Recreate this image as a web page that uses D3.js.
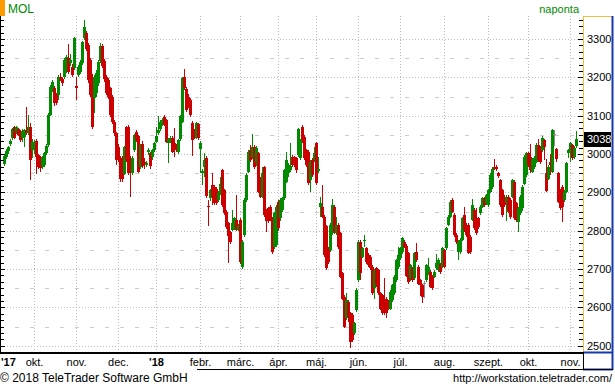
<!DOCTYPE html>
<html>
<head>
<meta charset="utf-8">
<script src="https://cdnjs.cloudflare.com/ajax/libs/d3/7.8.5/d3.min.js"></script>
<style>
  body { margin: 0; background: #fff; }
  svg { display: block; font-family: "Liberation Sans", Arial, sans-serif; }
</style>
</head>
<body>
<script>
// MOL daily candles, mid Sep 2017 - early Nov 2018, one entry per trading day
var open = [
  2975,2993,3008,3026,3041,3070,3058,3064,3058,3041,3045,3063,3054,3071,3010,3012,3035,2997,2993,2967,
  2971,3002,3023,3102,3167,3171,3154,3154,3200,3195,3202,3219,3250,3237,3228,3224,3177,3206,3215,3237,
  3302,3315,3284,3245,3202,3145,3160,3185,3243,3282,3243,3200,3193,3171,3150,3084,3054,3019,2989,2989,
  2948,3071,3071,2989,2950,3010,3058,3046,2967,3025,2980,2972,3006,3002,2991,3010,3032,3054,3064,3076,
  3097,3089,3028,3036,3043,3028,3021,3006,3038,3084,3202,3169,3150,3141,3080,3060,3043,3078,3012,2950,
  2965,2989,2864,2884,2919,2915,2910,2880,2897,2958,2906,2850,2819,2797,2802,2806,2828,2802,2828,2704,
  2788,2880,2954,3010,2993,3019,2976,3002,2936,2889,2967,2850,2858,2863,2832,2758,2763,2876,2832,2854,
  2884,2928,2950,2958,2993,2991,2989,2997,2989,3070,3045,3010,3006,2932,2984,2984,3028,2956,2863,2863,
  2836,2811,2754,2750,2793,2863,2793,2815,2793,2689,2628,2571,2615,2584,2580,2532,2593,2671,2771,2732,
  2773,2754,2737,2732,2706,2650,2702,2697,2637,2632,2623,2623,2615,2597,2619,2637,2671,2706,2728,2745,
  2771,2760,2741,2676,2702,2676,2745,2706,2671,2658,2664,2671,2688,2693,2680,2680,2702,2697,2713,2706,
  2749,2754,2815,2836,2880,2841,2789,2745,2745,2776,2841,2815,2815,2784,2828,2854,2832,2832,2845,2863,
  2884,2871,2867,2902,2915,2967,2967,2950,2932,2906,2889,2876,2889,2880,2889,2928,2871,2823,2845,2858,
  2923,2945,3002,2993,2954,2967,2980,3023,3015,3010,3036,2950,2936,2978,2954,3052,3012,2950,2906,2915,
  2880,2902,3002,3010,3023,2993,3021
];
var high = [
  3000,3012,3022,3040,3068,3074,3074,3068,3062,3064,3066,3122,3102,3082,3040,3036,3038,3000,2996,2994,
  3006,3026,3106,3180,3194,3178,3160,3206,3212,3200,3250,3258,3287,3262,3234,3306,3202,3232,3244,3296,
  3350,3322,3290,3250,3208,3206,3218,3246,3290,3286,3248,3206,3198,3176,3155,3088,3058,3025,2994,2996,
  3020,3074,3076,2995,2995,3052,3062,3050,3026,3035,2990,2982,3016,3006,3014,3032,3070,3099,3088,3094,
  3101,3092,3042,3048,3048,3067,3026,3040,3103,3200,3222,3174,3156,3146,3085,3066,3084,3082,3034,2962,
  3002,2995,2880,2910,2951,2920,2914,2903,2941,2962,2910,2854,2823,2800,2854,2836,2893,2818,2832,2775,
  2884,2950,3010,3023,3052,3024,3020,3006,2940,2967,2970,2856,2862,2866,2836,2850,2868,2880,2884,2888,
  2962,3006,2976,3028,2998,2996,2992,3068,3040,3076,3050,3014,3010,2984,2990,3019,3032,2993,2888,2919,
  2840,2815,2758,2819,2882,2867,2836,2820,2797,2692,2632,2638,2620,2588,2584,2562,2650,2775,2776,2758,
  2788,2758,2741,2736,2710,2700,2706,2700,2641,2636,2676,2628,2620,2645,2662,2684,2727,2758,2758,2784,
  2775,2764,2745,2714,2706,2745,2768,2710,2675,2662,2668,2714,2730,2697,2684,2697,2740,2728,2717,2758,
  2753,2810,2840,2880,2884,2845,2793,2775,2780,2836,2862,2819,2819,2788,2882,2858,2858,2836,2868,2888,
  2888,2897,2910,2950,2966,2988,2972,2954,2936,2910,2893,2893,2894,2884,2936,2932,2875,2862,2893,2920,
  2997,3006,3006,3027,2990,2994,3028,3040,3020,3046,3040,2988,2972,3001,3066,3062,3016,2954,2910,2919,
  2906,2980,3014,3032,3027,3020,3060
];
var low = [
  2968,2988,3000,3022,3036,3038,3052,3046,3032,3032,3017,3050,3050,2932,2990,3000,2948,2960,2954,2960,
  2966,2998,3018,3098,3162,3126,3128,3140,3190,3178,3196,3212,3210,3230,3200,3218,3141,3200,3210,3232,
  3298,3268,3186,3148,3066,3106,3150,3178,3238,3224,3188,3154,3144,3096,3079,3048,2971,2978,2928,2928,
  2944,2980,2944,2889,2945,3004,3032,2950,2960,2963,2960,2965,2998,2962,2985,3005,3028,3050,3060,3072,
  3072,3028,2977,3030,3002,2993,3006,3000,3034,3080,3166,3110,3120,3097,2995,3040,3038,3036,2950,2920,
  2941,2885,2812,2878,2867,2866,2866,2876,2893,2862,2840,2805,2716,2766,2798,2802,2798,2798,2714,2700,
  2784,2876,2950,2980,2988,2962,2970,2898,2884,2885,2836,2797,2819,2824,2740,2752,2758,2800,2826,2850,
  2880,2924,2940,2954,2966,2966,2950,2992,2984,3030,2984,2966,2920,2902,2940,2980,2920,2950,2836,2832,
  2732,2697,2714,2745,2788,2792,2788,2753,2676,2618,2545,2567,2563,2493,2510,2528,2588,2666,2671,2728,
  2758,2714,2706,2698,2632,2623,2654,2632,2593,2580,2580,2571,2593,2592,2614,2632,2666,2700,2724,2740,
  2754,2678,2662,2670,2666,2672,2718,2658,2630,2612,2625,2666,2684,2650,2646,2676,2698,2692,2688,2702,
  2702,2750,2811,2832,2845,2784,2766,2724,2740,2772,2797,2784,2738,2740,2824,2801,2788,2805,2840,2858,
  2862,2866,2862,2898,2910,2958,2955,2938,2862,2836,2862,2824,2845,2831,2884,2827,2823,2796,2840,2852,
  2918,2940,2966,2950,2950,2962,2976,2980,2975,3006,2985,2900,2932,2945,2950,3020,2980,2871,2853,2823,
  2876,2898,2990,2980,2984,2988,3016
];
var close = [
  2995,3008,3018,3035,3064,3041,3070,3050,3037,3061,3063,3054,3071,2984,3032,3030,2993,2967,2963,2989,
  3002,3021,3102,3176,3189,3132,3132,3202,3195,3184,3245,3254,3215,3245,3206,3302,3173,3228,3240,3293,
  3332,3273,3193,3154,3071,3200,3212,3241,3282,3230,3195,3160,3150,3102,3084,3054,2984,2984,2934,2934,
  3017,2984,2950,2950,2989,3049,3037,2954,3023,2968,2971,2976,3010,2969,3010,3028,3047,3063,3084,3090,
  3076,3032,3038,3043,3006,3010,3010,3036,3099,3197,3171,3115,3125,3102,3036,3045,3080,3041,3030,2955,
  2984,2890,2861,2906,2889,2871,2871,2899,2923,2867,2845,2810,2786,2771,2819,2832,2802,2812,2719,2771,
  2880,2945,3006,2984,3019,2967,3015,2902,2889,2950,2841,2824,2824,2828,2745,2845,2863,2806,2880,2884,
  2958,2984,2971,2970,2971,2971,2958,3064,3036,3036,2989,2971,2925,2980,2945,3002,2924,2962,2871,2836,
  2737,2702,2719,2815,2867,2797,2815,2758,2680,2623,2550,2619,2576,2510,2515,2558,2645,2771,2689,2754,
  2777,2719,2710,2702,2637,2697,2658,2637,2597,2584,2584,2584,2597,2641,2658,2680,2723,2737,2754,2780,
  2758,2682,2667,2710,2671,2741,2723,2662,2658,2628,2664,2710,2706,2654,2650,2693,2715,2723,2693,2754,
  2706,2806,2836,2875,2849,2789,2771,2771,2776,2832,2802,2789,2743,2745,2867,2806,2793,2810,2863,2884,
  2867,2893,2906,2945,2962,2962,2960,2943,2867,2841,2867,2889,2850,2836,2932,2832,2828,2858,2889,2915,
  2993,3002,2971,2958,2986,2989,3023,2984,2980,3041,3019,2904,2967,2972,3062,3052,2986,2876,2858,2862,
  2902,2976,3010,3028,2989,3015,3038
];

// first trading day of each month (index into the arrays) and its label
var monthIdx = [15, 36, 57, 76, 98, 118, 137, 156, 177, 198, 220, 242, 262, 283];
var monthLabels = ['okt.', 'nov.', 'dec.', "'18", 'febr.', 'márc.', 'ápr.', 'máj.', 'jún.', 'júl.', 'aug.', 'szept.', 'okt.', 'nov.'];
var priceTicks = [2500, 2600, 2700, 2800, 2900, 3000, 3100, 3200, 3300];
var halfTicks = [2550, 2650, 2750, 2850, 2950, 3050, 3150, 3250];
var lastPrice = 3038;

var green = '#008a00', red = '#cc0000', grey = '#8c8c8c';

//plot frame
var W = 615, H = 390;
var plot = {left: 0, right: 583, top: 16, bottom: 352};

var xScale = d3.scaleLinear().domain([0, close.length - 1]).range([4, 4 + 2 * (close.length - 1)]);
var yScale = d3.scaleLinear().domain([2500, 3300]).range([345.7, 39]);
var yPix = function(v) { return Math.round(yScale(v)) + 0.5; };

var svg = d3.select('body').append('svg')
    .attr('width', W)
    .attr('height', H);

svg.append('rect').attr('width', W).attr('height', H).attr('fill', '#fff');

//header
svg.append('rect').attr('x', 0).attr('y', 0).attr('width', 5).attr('height', 16).attr('fill', '#ff9c00');
svg.append('text').attr('x', 8).attr('y', 13).attr('fill', green).style('font-size', '12px').text('MOL');
svg.append('text').attr('x', 579).attr('y', 13).attr('text-anchor', 'end').attr('fill', green)
    .style('font-size', '11px').text('naponta');

//grid
var grid = svg.append('g');
grid.selectAll('.hgrid').data(priceTicks).enter().append('line')
    .attr('x1', 1).attr('x2', plot.right)
    .attr('y1', yPix).attr('y2', yPix)
    .attr('stroke', '#bdbdbd').attr('stroke-dasharray', '1,2');
grid.selectAll('.hhalf').data(halfTicks).enter().append('line')
    .attr('x1', 0).attr('x2', plot.right)
    .attr('y1', yPix).attr('y2', yPix)
    .attr('stroke', '#cccccc').attr('stroke-dasharray', '4,11');
grid.selectAll('.vgrid').data(monthIdx).enter().append('line')
    .attr('x1', function(d) { return xScale(d) + 0.5; })
    .attr('x2', function(d) { return xScale(d) + 0.5; })
    .attr('y1', plot.top).attr('y2', plot.bottom)
    .attr('stroke', '#bdbdbd').attr('stroke-dasharray', '1,2');

//candles
var idx = d3.range(close.length);
var colorOf = function(i) {
    if (close[i] > open[i]) return green;
    if (close[i] < open[i]) return red;
    return grey;
};
var candles = svg.append('g');
candles.selectAll('.wick').data(idx).enter().append('rect')
    .attr('x', function(i) { return xScale(i); })
    .attr('width', 1)
    .attr('y', function(i) { return Math.round(yScale(high[i])); })
    .attr('height', function(i) { return Math.max(1, Math.round(yScale(low[i])) - Math.round(yScale(high[i]))); })
    .attr('fill', colorOf);
candles.selectAll('.body').data(idx).enter().append('rect')
    .attr('x', function(i) { return xScale(i) - 1; })
    .attr('width', 3)
    .attr('y', function(i) { return Math.round(yScale(Math.max(open[i], close[i]))); })
    .attr('height', function(i) {
        return Math.max(1, Math.round(yScale(Math.min(open[i], close[i]))) - Math.round(yScale(Math.max(open[i], close[i]))));
    })
    .attr('fill', colorOf);

//side ticks, six steps per 100
var minorTicks = d3.range(0, 52).map(function(k) { return 2500 + k * 100 / 6; });
var ticks = svg.append('g').attr('stroke', '#000');
ticks.selectAll('.lt').data(minorTicks).enter().append('line')
    .attr('x1', 0).attr('x2', function(d, k) { return k % 6 == 0 ? 5 : 4; })
    .attr('y1', yPix).attr('y2', yPix);
ticks.selectAll('.rt').data(minorTicks).enter().append('line')
    .attr('x1', function(d, k) { return plot.right - (k % 6 == 0 ? 5 : 4); }).attr('x2', plot.right)
    .attr('y1', yPix).attr('y2', yPix);
svg.append('line').attr('x1', 0.5).attr('x2', 0.5).attr('y1', plot.top).attr('y2', plot.bottom).attr('stroke', '#000');

//price axis on the right
var yAxis = d3.axisRight(yScale).tickValues(priceTicks).tickSize(0).tickPadding(4).tickFormat(d3.format('d'));
var ya = svg.append('g').attr('transform', 'translate(' + plot.right + ',0)').call(yAxis);
ya.select('.domain').remove();
ya.selectAll('text').style('font-size', '11px').style('font-family', '"Liberation Sans", Arial, sans-serif').attr('fill', '#000');

//last price marker
var lp = svg.append('g');
lp.append('rect').attr('x', 584).attr('y', Math.round(yScale(lastPrice)) - 7).attr('width', 27).attr('height', 15).attr('fill', '#000');
lp.append('text').attr('x', 587).attr('y', yScale(lastPrice) + 4).attr('fill', '#fff').style('font-size', '11px').text(lastPrice);

//frame of the price axis box
svg.append('line').attr('x1', 583.5).attr('x2', 583.5).attr('y1', plot.top).attr('y2', plot.bottom).attr('stroke', '#f0c040');
svg.append('line').attr('x1', 583).attr('x2', 613).attr('y1', 16.5).attr('y2', 16.5).attr('stroke', '#f0c040');
svg.append('line').attr('x1', 612.5).attr('x2', 612.5).attr('y1', 16).attr('y2', 370).attr('stroke', '#1838b0').attr('stroke-width', 2);
svg.append('line').attr('x1', 583).attr('x2', 613).attr('y1', 352.5).attr('y2', 352.5).attr('stroke', '#1838b0').attr('stroke-width', 2);
svg.append('line').attr('x1', 583).attr('x2', 613).attr('y1', 369.5).attr('y2', 369.5).attr('stroke', '#1838b0').attr('stroke-width', 2);

//time axis
svg.append('rect').attr('x', 0).attr('y', plot.bottom).attr('width', plot.right).attr('height', 2).attr('fill', '#000');
svg.append('line').attr('x1', 583.5).attr('x2', 583.5).attr('y1', plot.bottom).attr('y2', 370).attr('stroke', '#000');
var xAxis = d3.axisBottom(xScale).tickValues(monthIdx).tickSize(0).tickPadding(4)
    .tickFormat(function(d, k) { return monthLabels[k]; });
var xa = svg.append('g').attr('transform', 'translate(0,354)').call(xAxis);
xa.select('.domain').remove();
xa.selectAll('text').style('font-size', '11px').style('font-family', '"Liberation Sans", Arial, sans-serif').attr('fill', '#000')
    .style('font-weight', function(d, k) { return monthLabels[k] == "'18" ? 'bold' : 'normal'; });
svg.append('text').attr('x', 1).attr('y', 366).style('font-size', '11px').style('font-weight', 'bold').text("'17");

//footer
svg.append('line').attr('x1', 197).attr('x2', 613).attr('y1', 369.5).attr('y2', 369.5).attr('stroke', '#000');
svg.append('text').attr('x', 0).attr('y', 382).style('font-size', '12px').text('\u00a9 2018 TeleTrader Software GmbH');
svg.append('text').attr('x', 612).attr('y', 382).attr('text-anchor', 'end').style('font-size', '11px').text('http://workstation.teletrader.com/');
</script>
</body>
</html>
